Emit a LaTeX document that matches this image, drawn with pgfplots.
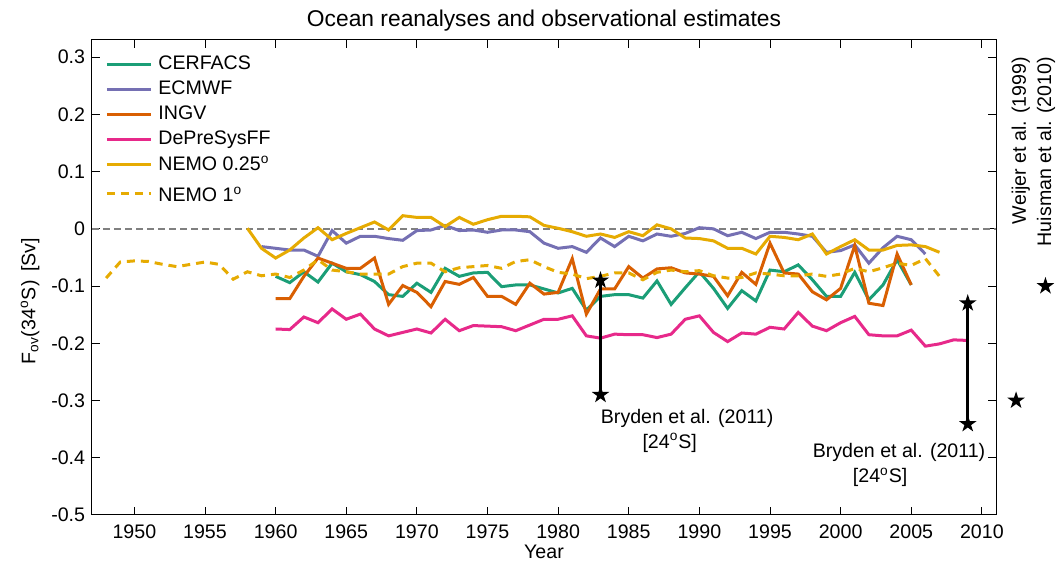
\documentclass[border=0pt]{standalone}
\usepackage{fontspec}
\setmainfont{Liberation Sans}
\usepackage{pgfplots}
\pgfplotsset{compat=1.18}
\usetikzlibrary{calc}
\definecolor{cerf}{HTML}{1B9E77}
\definecolor{ecm}{HTML}{7570B3}
\definecolor{ingv}{HTML}{D95F02}
\definecolor{dps}{HTML}{E7298A}
\definecolor{nemo}{HTML}{E6AB02}
\pgfdeclareplotmark{fstar}{%
  \pgfpathmoveto{\pgfpointpolar{90}{\pgfplotmarksize}}%
  \pgfpathlineto{\pgfpointpolar{126}{0.382*\pgfplotmarksize}}%
  \pgfpathlineto{\pgfpointpolar{162}{\pgfplotmarksize}}%
  \pgfpathlineto{\pgfpointpolar{198}{0.382*\pgfplotmarksize}}%
  \pgfpathlineto{\pgfpointpolar{234}{\pgfplotmarksize}}%
  \pgfpathlineto{\pgfpointpolar{270}{0.382*\pgfplotmarksize}}%
  \pgfpathlineto{\pgfpointpolar{306}{\pgfplotmarksize}}%
  \pgfpathlineto{\pgfpointpolar{342}{0.382*\pgfplotmarksize}}%
  \pgfpathlineto{\pgfpointpolar{18}{\pgfplotmarksize}}%
  \pgfpathlineto{\pgfpointpolar{54}{0.382*\pgfplotmarksize}}%
  \pgfpathclose
  \pgfusepathqfill
}
\begin{document}
\fontsize{9.8pt}{11.8pt}\selectfont
\begin{tikzpicture}
\begin{axis}[
  name=ax,
  scale only axis, width=452pt, height=237.5pt,
  xmin=1947, xmax=2011, ymin=-0.5, ymax=0.33,
  xtick={1950,1955,1960,1965,1970,1975,1980,1985,1990,1995,2000,2005,2010},
  xticklabels={1950,1955,1960,1965,1970,1975,1980,1985,1990,1995,2000,2005,2010},
  ytick={-0.5,-0.4,-0.3,-0.2,-0.1,0,0.1,0.2,0.3},
  yticklabels={-0.5,-0.4,-0.3,-0.2,-0.1,0,0.1,0.2,0.3},
  /pgf/number format/assume math mode=true,
  tick align=inside, tick pos=both, major tick length=4pt,
  tick style={black, line width=0.5pt},
  axis line style={black, line width=0.5pt},
  xticklabel style={anchor=base, yshift=-11.75pt},
  clip=false,
  title={Ocean reanalyses and observational estimates},
  title style={at={(axis description cs:0.5,1)}, anchor=base, yshift=0.9pt, font=\fontsize{11.4pt}{13pt}\selectfont},
  xlabel={Year},
  xlabel style={at={(axis description cs:0.5,0)}, anchor=base, yshift=-22pt},
  ylabel={F\textsubscript{ov}(34\textsuperscript{o}S)\ \,[Sv]},
  ylabel style={at={(axis description cs:-0.0686,0.45)}, anchor=center},
  legend cell align=left,
  legend image code/.code={\draw[#1] (0pt,0pt) -- (22pt,0pt);},
  legend style={draw=none, fill=none, inner sep=0pt,
    at={(axis description cs:0,1)}, anchor=north west, xshift=6.5pt, yshift=-6.3pt,
    nodes={inner sep=1.5pt}, row sep=1.2pt, column sep=1.5pt},
]
\addplot[gray, line width=0.8pt, dash pattern=on 3.5pt off 2pt, forget plot] coordinates {(1947,0) (2011,0)};

\addplot[cerf, line width=1.5pt] coordinates {
(1960,-0.083) (1961,-0.094) (1962,-0.075) (1963,-0.093) (1964,-0.060) (1965,-0.075) (1966,-0.080) (1967,-0.092) (1968,-0.115) (1969,-0.118)
(1970,-0.095) (1971,-0.111) (1972,-0.069) (1973,-0.083) (1974,-0.077) (1975,-0.076) (1976,-0.101) (1977,-0.098) (1978,-0.098) (1979,-0.105)
(1980,-0.112) (1981,-0.104) (1982,-0.142) (1983,-0.118) (1984,-0.115) (1985,-0.115) (1986,-0.121) (1987,-0.091) (1988,-0.132) (1989,-0.103)
(1990,-0.075) (1991,-0.104) (1992,-0.139) (1993,-0.108) (1994,-0.126) (1995,-0.072) (1996,-0.075) (1997,-0.063) (1998,-0.089) (1999,-0.118)
(2000,-0.118) (2001,-0.076) (2002,-0.124) (2003,-0.098) (2004,-0.054) (2005,-0.098)};
\addlegendentry{CERFACS}

\addplot[ecm, line width=1.5pt] coordinates {
(1959,-0.031) (1960,-0.034) (1961,-0.037) (1962,-0.037) (1963,-0.048) (1964,-0.003) (1965,-0.025) (1966,-0.013) (1967,-0.013) (1968,-0.017) (1969,-0.020)
(1970,-0.003) (1971,-0.002) (1972,0.006) (1973,-0.003) (1974,-0.002) (1975,-0.006) (1976,-0.002) (1977,-0.002) (1978,-0.005) (1979,-0.025)
(1980,-0.034) (1981,-0.031) (1982,-0.041) (1983,-0.016) (1984,-0.031) (1985,-0.013) (1986,-0.021) (1987,-0.009) (1988,-0.013) (1989,-0.008)
(1990,0.002) (1991,0.000) (1992,-0.012) (1993,-0.006) (1994,-0.017) (1995,-0.006) (1996,-0.006) (1997,-0.009) (1998,-0.013) (1999,-0.041)
(2000,-0.038) (2001,-0.028) (2002,-0.060) (2003,-0.033) (2004,-0.013) (2005,-0.019) (2006,-0.044)};
\addlegendentry{ECMWF}

\addplot[ingv, line width=1.5pt] coordinates {
(1960,-0.122) (1961,-0.122) (1962,-0.083) (1963,-0.051) (1964,-0.060) (1965,-0.069) (1966,-0.069) (1967,-0.051) (1968,-0.132) (1969,-0.099)
(1970,-0.111) (1971,-0.136) (1972,-0.092) (1973,-0.097) (1974,-0.085) (1975,-0.118) (1976,-0.118) (1977,-0.132) (1978,-0.095) (1979,-0.114)
(1980,-0.111) (1981,-0.052) (1982,-0.149) (1983,-0.105) (1984,-0.105) (1985,-0.066) (1986,-0.086) (1987,-0.070) (1988,-0.068) (1989,-0.077)
(1990,-0.079) (1991,-0.083) (1992,-0.117) (1993,-0.076) (1994,-0.097) (1995,-0.025) (1996,-0.077) (1997,-0.079) (1998,-0.110) (1999,-0.124)
(2000,-0.104) (2001,-0.029) (2002,-0.130) (2003,-0.134) (2004,-0.044) (2005,-0.098)};
\addlegendentry{INGV}

\addplot[dps, line width=1.5pt] coordinates {
(1960,-0.175) (1961,-0.176) (1962,-0.154) (1963,-0.164) (1964,-0.140) (1965,-0.158) (1966,-0.149) (1967,-0.175) (1968,-0.187) (1969,-0.181)
(1970,-0.175) (1971,-0.182) (1972,-0.158) (1973,-0.178) (1974,-0.169) (1975,-0.170) (1976,-0.171) (1977,-0.178) (1978,-0.168) (1979,-0.158)
(1980,-0.158) (1981,-0.152) (1982,-0.187) (1983,-0.191) (1984,-0.184) (1985,-0.185) (1986,-0.185) (1987,-0.190) (1988,-0.184) (1989,-0.158)
(1990,-0.152) (1991,-0.181) (1992,-0.197) (1993,-0.182) (1994,-0.184) (1995,-0.172) (1996,-0.175) (1997,-0.146) (1998,-0.170) (1999,-0.178)
(2000,-0.164) (2001,-0.153) (2002,-0.185) (2003,-0.187) (2004,-0.187) (2005,-0.177) (2006,-0.205) (2007,-0.201) (2008,-0.194) (2009,-0.195)};
\addlegendentry{DePreSysFF}

\addplot[nemo, line width=1.5pt] coordinates {
(1958,0.001) (1959,-0.034) (1960,-0.051) (1961,-0.037) (1962,-0.016) (1963,0.002) (1964,-0.019) (1965,-0.008) (1966,0.002) (1967,0.012) (1968,-0.002) (1969,0.023)
(1970,0.020) (1971,0.020) (1972,0.004) (1973,0.020) (1974,0.008) (1975,0.016) (1976,0.022) (1977,0.022) (1978,0.021) (1979,0.006)
(1980,0.001) (1981,-0.005) (1982,-0.013) (1983,-0.009) (1984,-0.015) (1985,-0.005) (1986,-0.012) (1987,0.007) (1988,0.000) (1989,-0.016)
(1990,-0.017) (1991,-0.021) (1992,-0.034) (1993,-0.034) (1994,-0.044) (1995,-0.013) (1996,-0.015) (1997,-0.019) (1998,-0.009) (1999,-0.044)
(2000,-0.031) (2001,-0.019) (2002,-0.037) (2003,-0.037) (2004,-0.029) (2005,-0.028) (2006,-0.031) (2007,-0.041)};
\addlegendentry{NEMO 0.25\textsuperscript{o}}

\addplot[nemo, line width=1.5pt, dash pattern=on 4pt off 3pt] coordinates {
(1948,-0.086) (1949,-0.058) (1950,-0.056) (1951,-0.057) (1952,-0.062) (1953,-0.066) (1954,-0.062) (1955,-0.058) (1956,-0.062) (1957,-0.088) (1958,-0.075) (1959,-0.082)
(1960,-0.079) (1961,-0.085) (1962,-0.072) (1963,-0.054) (1964,-0.072) (1965,-0.075) (1966,-0.079) (1967,-0.079) (1968,-0.079) (1969,-0.066)
(1970,-0.060) (1971,-0.060) (1972,-0.075) (1973,-0.068) (1974,-0.066) (1975,-0.064) (1976,-0.069) (1977,-0.057) (1978,-0.054) (1979,-0.066)
(1980,-0.076) (1981,-0.079) (1982,-0.087) (1983,-0.083) (1984,-0.077) (1985,-0.077) (1986,-0.089) (1987,-0.076) (1988,-0.072) (1989,-0.075)
(1990,-0.073) (1991,-0.082) (1992,-0.086) (1993,-0.085) (1994,-0.077) (1995,-0.079) (1996,-0.082) (1997,-0.082) (1998,-0.079) (1999,-0.083)
(2000,-0.079) (2001,-0.069) (2002,-0.075) (2003,-0.068) (2004,-0.060) (2005,-0.064) (2006,-0.052) (2007,-0.083)};
\addlegendentry{\rule{0pt}{9.85pt}NEMO 1\textsuperscript{o}}

\addplot[black, line width=1.5pt, mark=fstar, mark size=4.6pt, mark options={solid, fill=black}, forget plot] coordinates {(1983,-0.09) (1983,-0.29)};
\addplot[black, line width=1.5pt, mark=fstar, mark size=4.6pt, mark options={solid, fill=black}, forget plot] coordinates {(2009,-0.13) (2009,-0.341)};
\addplot[black, only marks, mark=fstar, mark size=4.6pt, forget plot] coordinates {(2012.42,-0.3) (2014.5,-0.1)};

\node[anchor=west, inner sep=0pt] at (axis cs:1983,-0.331) {Bryden et al. (2011)};
\node[anchor=center, inner sep=0pt] at (axis cs:1987.9,-0.374) {[24\textsuperscript{o}S]};
\node[anchor=west, inner sep=0pt] at (axis cs:1998.0,-0.39) {Bryden et al. (2011)};
\node[anchor=center, inner sep=0pt] at (axis cs:2002.8,-0.434) {[24\textsuperscript{o}S]};
\node[rotate=90, anchor=east, inner sep=0pt] at (axis cs:2012.76,0.301) {Weijer et al. (1999)};
\node[rotate=90, anchor=east, inner sep=0pt] at (axis cs:2014.55,0.301) {Huisman et al. (2010)};
\end{axis}
\pgfresetboundingbox
\path[use as bounding box] ($(ax.south west)+(-46pt,-23.5pt)$) rectangle ($(ax.north east)+(30pt,20pt)$);
\end{tikzpicture}
\end{document}
